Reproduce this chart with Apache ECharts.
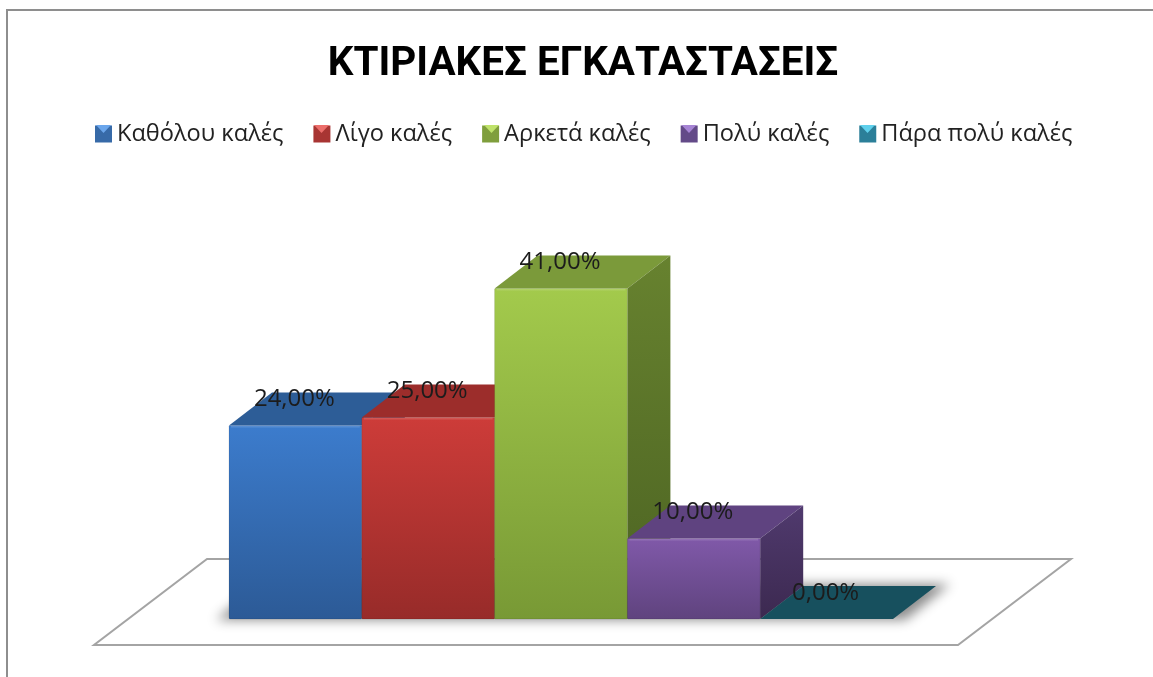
<!DOCTYPE html>
<html>
<head>
<meta charset="utf-8">
<style>html,body{margin:0;padding:0;background:#fff}#main{width:1153px;height:677px}</style>
<script src="https://cdn.jsdelivr.net/npm/echarts@6/dist/echarts.min.js"></script>
</head>
<body>
<div id="main"></div>
<script>
// data
const titleText = 'ΚΤΙΡΙΑΚΕΣ ΕΓΚΑΤΑΣΤΑΣΕΙΣ';
const categories = ['Καθόλου καλές', 'Λίγο καλές', 'Αρκετά καλές', 'Πολύ καλές', 'Πάρα πολύ καλές'];
const values = [24, 25, 41, 10, 0];
const valueLabels = ['24,00%', '25,00%', '41,00%', '10,00%', '0,00%'];

// face colours per bar
const frontTop = ['#3c7ccd', '#cd3c39', '#a3ca4c', '#8059a9', '#35aac9'];
const frontBottom = ['#2c5a96', '#972b29', '#789935', '#5f437e', '#277a92'];
const topFace = ['#2d5d97', '#9c2d2b', '#7b9a3a', '#5f4380', '#17505e'];
const sideTop = ['#2a5688', '#8c2927', '#67822f', '#503a6e', '#17505e'];
const sideBottom = ['#1f3f66', '#6a1e1d', '#4c6322', '#3c2950', '#17505e'];
// legend swatches: body and the light triangle on top of it
const swatchBody = ['#376aa8', '#a83533', '#7f9e3c', '#634a88', '#2b7f99'];
const swatchLight = ['#6ba6ec', '#ec6e6b', '#bfe26a', '#a684d4', '#5fd0ec'];
const swatchLeft = [95, 313, 483, 680.5, 859];

const depthX = 43;
const depthY = 33;
const textColor = '#1c1c1c';

function linear(c1, c2) {
  return new echarts.graphic.LinearGradient(0, 0, 0, 1, [
    { offset: 0, color: c1 },
    { offset: 1, color: c2 }
  ]);
}

function renderBar(params, api) {
  const i = api.value(0);
  const top = api.coord([i, api.value(1)]);
  const base = api.coord([i, 0]);
  const w = api.size([1, 0])[0];
  const x0 = top[0] - w / 2;
  const x1 = top[0] + w / 2;
  const yT = top[1];
  const yB = base[1];
  const children = [];
  // top face
  children.push({
    type: 'polygon',
    shape: { points: [[x0, yT], [x1, yT], [x1 + depthX, yT - depthY], [x0 + depthX, yT - depthY]] },
    style: { fill: topFace[i] }
  });
  if (yB - yT > 1) {
    // side face
    children.push({
      type: 'polygon',
      shape: { points: [[x1, yT], [x1 + depthX, yT - depthY], [x1 + depthX, yB - depthY], [x1, yB]] },
      style: { fill: linear(sideTop[i], sideBottom[i]) }
    });
    // front face
    children.push({
      type: 'rect',
      shape: { x: x0, y: yT, width: w, height: yB - yT, r: 1 },
      style: { fill: linear(frontTop[i], frontBottom[i]), stroke: 'rgba(0,0,0,0.1)', lineWidth: 1 }
    });
    // little light bevel along the top of the front
    children.push({
      type: 'line',
      shape: { x1: x0 + 2, y1: yT + 1, x2: x1 - 2, y2: yT + 1 },
      style: { stroke: 'rgba(255,255,255,0.14)', lineWidth: 2 }
    });
  }
  children.push({
    type: 'text',
    style: {
      x: top[0] - 1,
      y: yT - 26,
      text: valueLabels[i],
      fill: textColor,
      font: '24px "Open Sans"',
      align: 'center',
      verticalAlign: 'middle'
    }
  });
  return { type: 'group', children: children };
}

const chart = echarts.init(document.getElementById('main'));

const option = {
  backgroundColor: '#ffffff',
  animation: false,
  title: {
    text: titleText,
    left: 578,
    top: 40,
    textAlign: 'center',
    textStyle: { fontFamily: 'Roboto', fontWeight: 'bold', fontSize: 40.4, color: '#000000' }
  },
  legend: {
    left: 90,
    top: 117,
    icon: 'rect',
    itemWidth: 17,
    itemHeight: 17,
    itemGap: 30,
    selectedMode: false,
    data: categories,
    textStyle: { fontFamily: 'Open Sans', fontSize: 23.6, color: '#222222' }
  },
  grid: { left: 229, width: 664, top: 216, height: 403 },
  xAxis: { type: 'category', data: categories, show: false },
  yAxis: { type: 'value', min: 0, max: 50, show: false },
  series: categories.map((name, i) => ({
    name: name,
    type: 'custom',
    clip: false,
    renderItem: renderBar,
    encode: { x: 0, y: 1 },
    itemStyle: { color: swatchBody[i] },
    data: [[i, values[i]]]
  })),
  graphic: [
    // chart area frame, only top and left fall inside the picture
    {
      type: 'polyline',
      shape: { points: [[7, 677], [7, 10], [1153, 10]] },
      style: { fill: null, stroke: '#8e8e8e', lineWidth: 2 }
    },
    // floor
    {
      type: 'polygon',
      shape: { points: [[94, 645], [958, 645], [1071, 559], [207, 559]] },
      style: { fill: '#ffffff', stroke: '#a4a4a4', lineWidth: 2 }
    },
    // soft shadow under the bars, polygon itself sits off the page
    {
      type: 'polygon',
      x: -2000,
      shape: { points: [[216, 620], [905, 620], [950, 584], [260, 584]] },
      style: { fill: '#000', shadowColor: 'rgba(0,0,0,0.45)', shadowBlur: 12, shadowOffsetX: 2000 }
    }
  ].concat(swatchLeft.map((x, i) => ({
    // light triangle on each legend swatch
    type: 'polygon',
    z: 10,
    shape: { points: [[x + 1, 125], [x + 16, 125], [x + 8.5, 133]] },
    style: { fill: swatchLight[i] }
  })))
};

chart.setOption(option);
</script>
</body>
</html>
